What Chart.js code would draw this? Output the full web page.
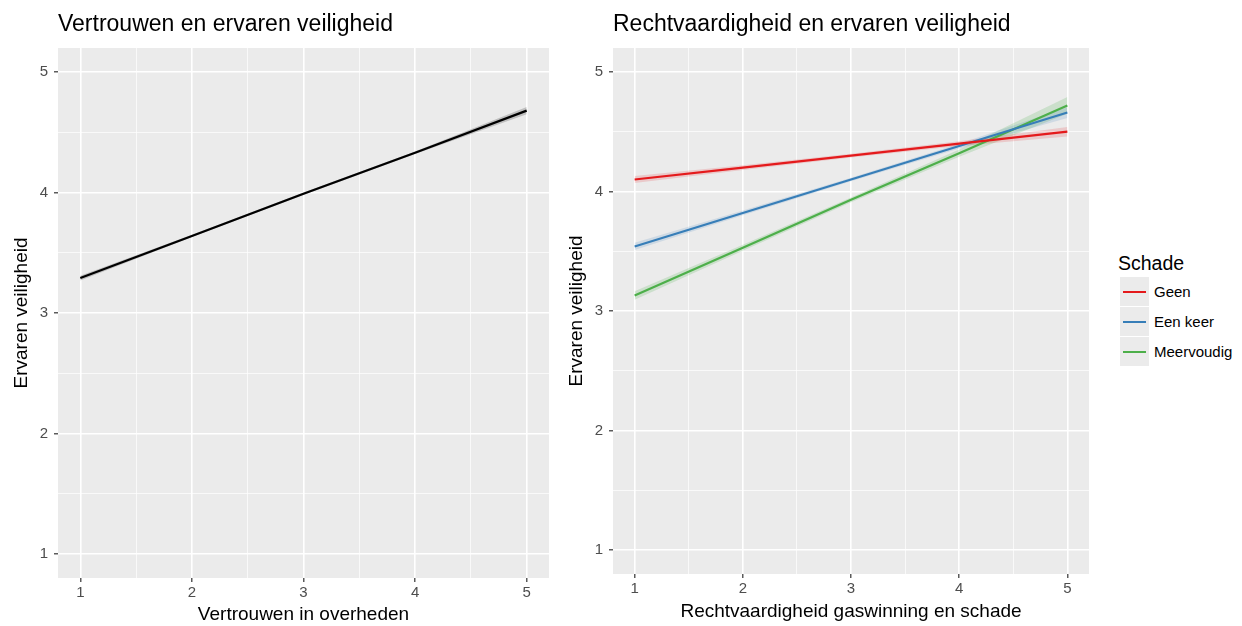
<!DOCTYPE html>
<html>
<head>
<meta charset="utf-8">
<script src="https://cdn.jsdelivr.net/npm/chart.js@4.4.1/dist/chart.umd.min.js"></script>
<style>
    html, body { margin: 0; padding: 0; background: #fff; }
    body { width: 1242px; height: 626px; position: relative; overflow: hidden; font-family: "Liberation Sans", Arial, sans-serif; }
    canvas { position: absolute; top: 0; }
    #trustChart { left: 0; }
    #fairChart { left: 560px; }
    #legendTitle { position: absolute; left: 1118px; top: 251px; font-size: 19.5px; line-height: 24px; color: #000; }
    .key { position: absolute; left: 1120px; width: 29px; height: 29px; background: #EBEBEB; }
    .key span { position: absolute; left: 3px; right: 3px; top: 13.5px; height: 2px; }
    .label { position: absolute; left: 1154px; font-size: 15px; line-height: 29px; color: #000; }
</style>
</head>
<body>
<canvas id="trustChart" width="570" height="626"></canvas>
<canvas id="fairChart" width="540" height="626"></canvas>
<div id="legendTitle">Schade</div>
<div id="legend"></div>

<script>
const FONT = '"Liberation Sans", Arial, sans-serif';

const xValues = [1, 2, 3, 4, 5];
const gridValues = [1, 1.5, 2, 2.5, 3, 3.5, 4, 4.5, 5];

// Links: vertrouwen in overheden
const trustFit   = [3.29, 3.64, 3.99, 4.33, 4.68];
const trustLower = [3.27, 3.63, 3.98, 4.32, 4.65];
const trustUpper = [3.31, 3.65, 4.00, 4.34, 4.71];

// Rechts: rechtvaardigheid per schadegroep
const seriesNames  = ['Geen', 'Een keer', 'Meervoudig'];
const seriesColors = ['#E41A1C', '#377EB8', '#4DAF4A'];
const seriesFills  = ['rgba(228,26,28,0.16)', 'rgba(55,126,184,0.16)', 'rgba(77,175,74,0.2)'];

const geenFit   = [4.10, 4.20, 4.30, 4.40, 4.50];
const geenLower = [4.07, 4.18, 4.285, 4.38, 4.46];
const geenUpper = [4.13, 4.22, 4.315, 4.42, 4.54];

const eenKeerFit   = [3.54, 3.82, 4.10, 4.38, 4.66];
const eenKeerLower = [3.51, 3.80, 4.085, 4.36, 4.615];
const eenKeerUpper = [3.57, 3.84, 4.115, 4.40, 4.705];

const meervoudigFit   = [3.13, 3.53, 3.93, 4.32, 4.72];
const meervoudigLower = [3.095, 3.505, 3.91, 4.29, 4.65];
const meervoudigUpper = [3.165, 3.555, 3.95, 4.35, 4.79];

function toPoints(values) {
    return values.map((y, i) => ({ x: xValues[i], y: y }));
}

// grijze achtergrond van het panel (ggplot-stijl)
const panelBackground = {
    id: 'panelBackground',
    beforeDraw(chart) {
        const { ctx, chartArea: a } = chart;
        ctx.save();
        ctx.fillStyle = '#EBEBEB';
        ctx.fillRect(a.left, a.top, a.right - a.left, a.bottom - a.top);
        ctx.restore();
    }
};

function axisOptions(title, size, tickPadding, titlePadding, isX) {
    return {
        type: 'linear',
        min: 0.8,
        max: 5.2,
        afterBuildTicks: s => { s.ticks = gridValues.map(v => ({ value: v })); },
        afterFit: s => { if (isX) s.height = size; else s.width = size; },
        border: { display: false },
        grid: {
            color: '#FFFFFF',
            lineWidth: c => Number.isInteger(c.tick.value) ? 1.6 : 0.7,
            tickColor: c => Number.isInteger(c.tick.value) ? '#333333' : 'rgba(0,0,0,0)',
            tickWidth: 1.2,
            tickLength: 4,
            drawTicks: true
        },
        ticks: {
            autoSkip: false,
            maxRotation: 0,
            padding: tickPadding,
            color: '#4D4D4D',
            font: { size: 15, family: FONT },
            callback: v => Number.isInteger(v) ? String(v) : ''
        },
        title: {
            display: true,
            text: title,
            color: '#000',
            font: { size: 19, family: FONT, lineHeight: 1 },
            padding: titlePadding
        }
    };
}

function panelOptions(cfg) {
    return {
        responsive: false,
        animation: false,
        devicePixelRatio: 1,
        layout: { padding: { left: 0, right: cfg.padRight, top: 0, bottom: 0 } },
        elements: { point: { radius: 0 }, line: { tension: 0 } },
        plugins: {
            legend: { display: false },
            tooltip: { enabled: false },
            title: {
                display: true,
                text: cfg.title,
                align: 'start',
                fullSize: false,
                color: '#000',
                font: { size: 23, family: FONT, weight: 'normal', lineHeight: 1.2 },
                padding: { top: 11, bottom: 9.4 }
            }
        },
        scales: {
            x: axisOptions(cfg.xTitle, cfg.xHeight, 2, { top: 0, bottom: cfg.xTitlePad }, true),
            y: axisOptions('Ervaren veiligheid', cfg.yWidth, 6, { top: cfg.yTitlePad, bottom: 0 }, false)
        }
    };
}

function lineSet(values, color) {
    return { data: toPoints(values), borderColor: color, borderWidth: 2.2, fill: false };
}

function bandSet(lower, upper, fillColor, lowerIndex) {
    return [
        { data: toPoints(lower), borderWidth: 0, borderColor: 'rgba(0,0,0,0)', fill: false },
        { data: toPoints(upper), borderWidth: 0, borderColor: 'rgba(0,0,0,0)', fill: lowerIndex, backgroundColor: fillColor }
    ];
}

// Linker panel
new Chart(document.getElementById('trustChart'), {
    type: 'line',
    data: {
        datasets: [
            lineSet(trustFit, '#000000'),
            ...bandSet(trustLower, trustUpper, 'rgba(110,110,110,0.35)', 1)
        ]
    },
    options: panelOptions({
        title: 'Vertrouwen en ervaren veiligheid',
        xTitle: 'Vertrouwen in overheden',
        padRight: 21, yWidth: 58, xHeight: 48, xTitlePad: 1.5, yTitlePad: 12
    }),
    plugins: [panelBackground]
});

// Rechter panel
const fits   = [geenFit, eenKeerFit, meervoudigFit];
const lowers = [geenLower, eenKeerLower, meervoudigLower];
const uppers = [geenUpper, eenKeerUpper, meervoudigUpper];

const fairDatasets = fits.map((f, i) => lineSet(f, seriesColors[i]));
fits.forEach((f, i) => {
    const lowerIndex = fairDatasets.length;
    fairDatasets.push(...bandSet(lowers[i], uppers[i], seriesFills[i], lowerIndex));
});

new Chart(document.getElementById('fairChart'), {
    type: 'line',
    data: { datasets: fairDatasets },
    options: panelOptions({
        title: 'Rechtvaardigheid en ervaren veiligheid',
        xTitle: 'Rechtvaardigheid gaswinning en schade',
        padRight: 11, yWidth: 53, xHeight: 52, xTitlePad: 4.5, yTitlePad: 7.5
    }),
    plugins: [panelBackground]
});

// Legenda
const legend = document.getElementById('legend');
seriesNames.forEach((name, i) => {
    const top = 277 + i * 30;
    const key = document.createElement('div');
    key.className = 'key';
    key.style.top = top + 'px';
    key.innerHTML = '<span style="background:' + seriesColors[i] + '"></span>';
    legend.appendChild(key);

    const label = document.createElement('div');
    label.className = 'label';
    label.style.top = top + 'px';
    label.textContent = name;
    legend.appendChild(label);
});
</script>
</body>
</html>
